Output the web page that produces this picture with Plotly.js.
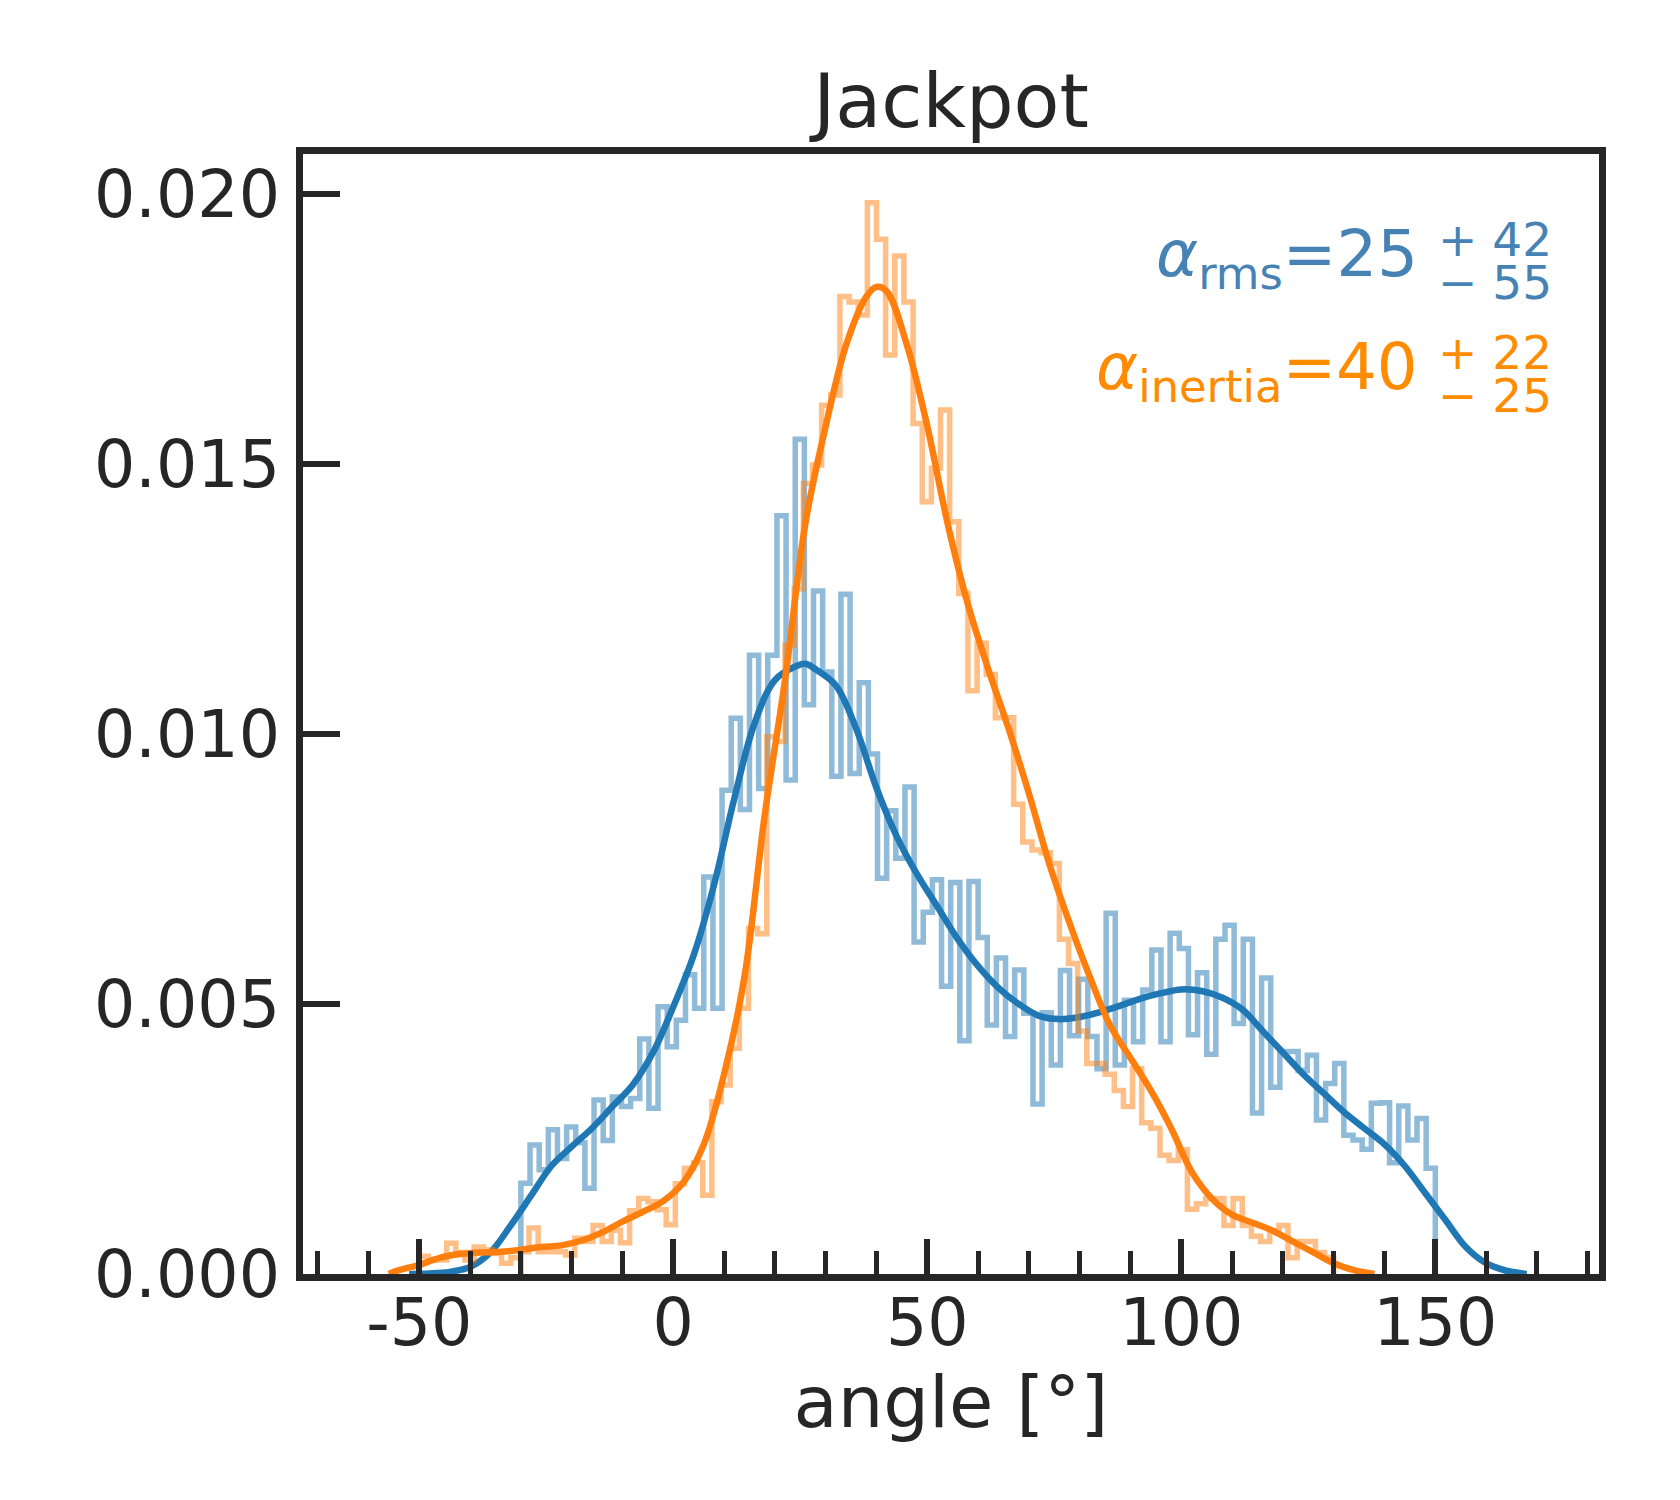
<!DOCTYPE html>
<html>
<head>
<meta charset="utf-8">
<script src="https://cdn.plot.ly/plotly-3.0.1.min.js"></script>
<style>
  body { margin: 0; background: #fff; }
  #myDiv { width: 1680px; height: 1500px; }
</style>
</head>
<body>
<div id="myDiv"></div>
<script>
// histogram bins: 100 bins of 1.8 deg each
var binWidth = 1.8;
var rmsStart = -30;
var inertiaStart = -50;

// alpha_rms histogram (density per bin)
var rmsCounts = [
  0.00168, 0.00239, 0.00193, 0.00267, 0.00214, 0.00272, 0.00243, 0.00159, 0.00322, 0.00247,
  0.00328, 0.00310, 0.00325, 0.00435, 0.00307, 0.00495, 0.00421, 0.00470, 0.00554, 0.00492,
  0.00735, 0.00492, 0.00896, 0.01029, 0.00860, 0.01146, 0.00899, 0.01146, 0.01404, 0.00915,
  0.01546, 0.01054, 0.01265, 0.01115, 0.00922, 0.01259, 0.00927, 0.01095, 0.00963, 0.00733,
  0.00858, 0.00770, 0.00902, 0.00615, 0.00670, 0.00730, 0.00533, 0.00725, 0.00432, 0.00727,
  0.00623, 0.00461, 0.00585, 0.00440, 0.00563, 0.00483, 0.00315, 0.00484, 0.00387, 0.00562,
  0.00441, 0.00546, 0.00440, 0.00380, 0.00668, 0.00387, 0.00507, 0.00430, 0.00526, 0.00600,
  0.00430, 0.00631, 0.00603, 0.00443, 0.00558, 0.00407, 0.00620, 0.00646, 0.00464, 0.00620,
  0.00298, 0.00548, 0.00346, 0.00412, 0.00412, 0.00377, 0.00405, 0.00285, 0.00353, 0.00390,
  0.00257, 0.00248, 0.00231, 0.00316, 0.00317, 0.00206, 0.00311, 0.00248, 0.00288, 0.00196
];

// alpha_inertia histogram
var inertiaCounts = [
  0.00033, 0.00026, 0.00026, 0.00057, 0.00040, 0.00026, 0.00050, 0.00045, 0.00038, 0.00020,
  0.00030, 0.00041, 0.00085, 0.00041, 0.00041, 0.00041, 0.00035, 0.00066, 0.00060, 0.00090,
  0.00060, 0.00081, 0.00058, 0.00117, 0.00140, 0.00134, 0.00119, 0.00091, 0.00167, 0.00196,
  0.00206, 0.00146, 0.00319, 0.00350, 0.00418, 0.00492, 0.00640, 0.00630, 0.00995, 0.00986,
  0.01165, 0.01269, 0.01464, 0.01498, 0.01609, 0.01628, 0.01810, 0.01800, 0.01776, 0.01984,
  0.01916, 0.01702, 0.01885, 0.01800, 0.01575, 0.01430, 0.01492, 0.01600, 0.01393, 0.01260,
  0.01080, 0.01168, 0.01110, 0.01030, 0.01030, 0.00870, 0.00800, 0.00785, 0.00780, 0.00760,
  0.00620, 0.00575, 0.00450, 0.00390, 0.00390, 0.00370, 0.00340, 0.00310, 0.00380, 0.00280,
  0.00270, 0.00220, 0.00210, 0.00230, 0.00120, 0.00130, 0.00140, 0.00140, 0.00090, 0.00140,
  0.00090, 0.00070, 0.00060, 0.00080, 0.00090, 0.00030, 0.00060, 0.00060, 0.00040, 0.00030
];

// kernel density estimates
var rmsKdeX = [-52, -48, -44, -40, -36, -32, -28, -24, -20, -16, -12, -8, -4, 0, 4, 8, 12, 16, 20, 24, 26, 28, 32, 36, 40, 44, 48, 52, 56, 60, 64, 68, 72, 76, 80, 84, 88, 92, 96, 100, 104, 108, 112, 116, 120, 124, 128, 132, 136, 140, 144, 148, 152, 156, 160, 164, 168];
var rmsKdeY = [0, 0.00001, 0.00004, 0.00013, 0.0004, 0.0009, 0.00145, 0.002, 0.00236, 0.0027, 0.0031, 0.0035, 0.0041, 0.00495, 0.0059, 0.0072, 0.0088, 0.0102, 0.011, 0.01125, 0.0113, 0.0112, 0.0109, 0.0101, 0.009, 0.0081, 0.0074, 0.0068, 0.0062, 0.0057, 0.0053, 0.0050, 0.00478, 0.00472, 0.00476, 0.00485, 0.00497, 0.0051, 0.0052, 0.00527, 0.00524, 0.00512, 0.0049, 0.0045, 0.0041, 0.0037, 0.00335, 0.003, 0.0027, 0.0024, 0.002, 0.0015, 0.001, 0.0005, 0.0002, 0.00006, 0];

var inertiaKdeX = [-56, -54, -50, -46, -42, -38, -34, -30, -26, -22, -18, -14, -10, -6, -2, 2, 6, 10, 14, 18, 22, 26, 30, 34, 38, 40, 42, 46, 50, 54, 58, 62, 66, 70, 74, 78, 82, 86, 90, 94, 98, 102, 106, 110, 114, 118, 122, 126, 130, 134, 138];
var inertiaKdeY = [0, 0.00007, 0.00017, 0.0003, 0.00037, 0.0004, 0.00041, 0.00045, 0.0005, 0.00053, 0.00062, 0.00077, 0.00097, 0.00115, 0.00135, 0.0017, 0.0024, 0.0037, 0.0055, 0.0085, 0.011, 0.0139, 0.0157, 0.0172, 0.0181, 0.01828, 0.0182, 0.0172, 0.0157, 0.0139, 0.0124, 0.0112, 0.0101, 0.0089, 0.0076, 0.0065, 0.0055, 0.0046, 0.0040, 0.0034, 0.0027, 0.0019, 0.0014, 0.0011, 0.00095, 0.0008, 0.0006, 0.0004, 0.0002, 0.00007, 0];

var xTickVals = [-50, 0, 50, 100, 150];
var xTickText = ['-50', '0', '50', '100', '150'];

var ink = '#262626';
var blue = '#1f77b4';
var orange = '#ff7f0e';
var rmsText = '#4682b4';
var inertiaText = '#ff8c00';

// step outline like histtype='step'
function stepTrace(start, counts, color) {
  var xs = [start], ys = [0];
  for (var i = 0; i < counts.length; i++) {
    xs.push(start + i * binWidth);
    ys.push(counts[i]);
  }
  var end = start + counts.length * binWidth;
  xs.push(end); ys.push(counts[counts.length - 1]);
  xs.push(end); ys.push(0);
  return {
    x: xs, y: ys, type: 'scatter', mode: 'lines',
    line: {shape: 'hv', color: color, width: 5.5},
    opacity: 0.5, hoverinfo: 'skip'
  };
}

var data = [
  stepTrace(rmsStart, rmsCounts, blue),
  {x: rmsKdeX, y: rmsKdeY, type: 'scatter', mode: 'lines',
   line: {shape: 'spline', smoothing: 1, color: blue, width: 6.5}},
  stepTrace(inertiaStart, inertiaCounts, orange),
  {x: inertiaKdeX, y: inertiaKdeY, type: 'scatter', mode: 'lines',
   line: {shape: 'spline', smoothing: 1, color: orange, width: 6.5}}
];

var font = 'DejaVu Sans, sans-serif';

function label(text, x, y, anchor, size, color, h) {
  var a = {text: text, xref: 'paper', yref: 'paper', x: x, y: y,
           xanchor: anchor, yanchor: 'middle', showarrow: false,
           font: {size: size, color: color}};
  if (h) a.height = h;
  return a;
}

var layout = {
  width: 1680,
  height: 1500,
  margin: {l: 303, r: 81, t: 154, b: 226},
  paper_bgcolor: '#fff',
  plot_bgcolor: '#fff',
  showlegend: false,
  font: {family: font, color: ink},
  title: {
    text: 'Jackpot',
    font: {size: 75, color: ink},
    x: 0.5, xref: 'paper', xanchor: 'center',
    y: 0.933, yref: 'container', yanchor: 'middle'
  },
  xaxis: {
    range: [-72.89, 182.22],
    showline: true, linewidth: 7, linecolor: ink, mirror: true,
    showgrid: false, zeroline: false,
    ticks: 'inside', ticklen: 35, tickwidth: 6, tickcolor: ink,
    tickmode: 'array', tickvals: xTickVals, ticktext: xTickText,
    tickfont: {size: 65, color: ink},
    ticklabelstandoff: -14,
    minor: {tickmode: 'linear', tick0: 0, dtick: 10, ticks: 'inside', ticklen: 23, tickwidth: 5, tickcolor: ink, showgrid: false},
    title: {text: 'angle [°]', font: {size: 72, color: ink}, standoff: 14}
  },
  yaxis: {
    range: [0, 0.020741],
    showline: true, linewidth: 7, linecolor: ink, mirror: true,
    showgrid: false, zeroline: false,
    ticks: 'inside', ticklen: 37, tickwidth: 6, tickcolor: ink,
    tick0: 0, dtick: 0.005, tickformat: '.3f',
    tickfont: {size: 65, color: ink},
    ticklabelstandoff: 3
  },
  annotations: [
    label('<i>α</i><sub>rms</sub>=25', 0.862, 0.907, 'right', 64, rmsText),
    label('+ 42', 0.874, 0.924, 'left', 47, rmsText, 40),
    label('− 55', 0.874, 0.886, 'left', 47, rmsText, 40),
    label('<i>α</i><sub>inertia</sub>=40', 0.862, 0.806, 'right', 64, inertiaText),
    label('+ 22', 0.874, 0.823, 'left', 47, inertiaText, 40),
    label('− 25', 0.874, 0.785, 'left', 47, inertiaText, 40)
  ]
};

Plotly.newPlot('myDiv', data, layout, {staticPlot: true});
</script>
</body>
</html>
